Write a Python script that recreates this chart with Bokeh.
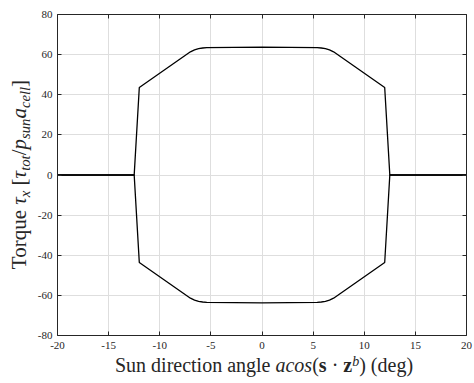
from bokeh.plotting import figure
from bokeh.layouts import row, column
from bokeh.models import LinearAxis, FixedTicker, CustomJSTickFormatter, Div
from bokeh.embed import file_html
from bokeh.resources import INLINE

# ---- data ----
angle_deg = [-20, -12.5, -12.0, -7.0, -6.6, -6.2, -5.8, -5.4, 0.0,
             5.4, 5.8, 6.2, 6.6, 7.0, 12.0, 12.5, 20]
torque_pos = [0, 0, 43.6, 61.4, 62.4, 63.0, 63.3, 63.5, 63.7,
              63.5, 63.3, 63.0, 62.4, 61.4, 43.6, 0, 0]
torque_neg = [0, 0, -43.6, -61.4, -62.4, -63.0, -63.3, -63.5, -63.7,
              -63.5, -63.3, -63.0, -62.4, -61.4, -43.6, 0, 0]
x_ticks = [-20, -15, -10, -5, 0, 5, 10, 15, 20]
y_ticks = [-80, -60, -40, -20, 0, 20, 40, 60, 80]

FONT = "Liberation Serif"
AX = "#262626"

# layout sizes (page pixels)
W, H = 474, 383
YLAB_W = 32
XLAB_H = 23
MAIN_W = W - YLAB_W
MAIN_H = H - XLAB_H

p = figure(width=MAIN_W, height=MAIN_H, x_range=(-20, 20), y_range=(-80, 80),
           output_backend="svg", toolbar_location=None,
           min_border_left=25, min_border_right=8, min_border_top=14,
           min_border_bottom=25)
p.outline_line_color = None

p.line(angle_deg, torque_pos, line_color="black", line_width=1.3)
p.line(angle_deg, torque_neg, line_color="black", line_width=1.3)


def style_axis(ax, ticks, show_labels):
    ax.ticker = FixedTicker(ticks=ticks)
    ax.axis_line_color = AX
    ax.axis_line_width = 1
    ax.major_tick_line_color = AX
    ax.major_tick_in = 4
    ax.major_tick_out = 0
    ax.minor_tick_line_color = None
    ax.axis_label = None
    if show_labels:
        ax.major_label_overrides = {t: str(t) for t in ticks}
        ax.major_label_text_font = FONT
        ax.major_label_text_font_size = "11px"
        ax.major_label_text_color = AX
    else:
        ax.formatter = CustomJSTickFormatter(code="return ''")
        ax.major_label_text_font_size = "0px"
        ax.major_label_standoff = 0


style_axis(p.xaxis[0], x_ticks, True)
style_axis(p.yaxis[0], y_ticks, True)
p.xaxis[0].major_label_standoff = 6
p.yaxis[0].major_label_standoff = 5

top_ax = LinearAxis()
right_ax = LinearAxis()
style_axis(top_ax, x_ticks, False)
style_axis(right_ax, y_ticks, False)
p.add_layout(top_ax, "above")
p.add_layout(right_ax, "right")

for g in (p.xgrid[0], p.ygrid[0]):
    g.grid_line_color = "#dedede"
    g.grid_line_width = 1
p.xgrid[0].ticker = FixedTicker(ticks=x_ticks)
p.ygrid[0].ticker = FixedTicker(ticks=y_ticks)

# ---- rich-text axis labels ----
def lbl(size):
    return (f"font-family:{FONT},serif; font-size:{size}px; "
            f"line-height:{size}px; color:{AX}; white-space:nowrap;")


SUB = "font-size:0.7em; line-height:0; vertical-align:-0.25em;"
SUP = "font-size:0.7em; line-height:0; vertical-align:0.45em;"

x_text = (f"Sun direction angle <i>acos</i>(<b>s</b> &middot; "
          f"<b>z</b><span style='{SUP}'><i>b</i></span>) (deg)")
y_text = (f"Torque <i>&tau;</i><span style='{SUB}'><i>x</i></span> "
          f"[<i>&tau;</i><span style='{SUB}'><i>tot</i></span>/"
          f"<i>p</i><span style='{SUB}'><i>sun</i></span>"
          f"<i>a</i><span style='{SUB}'><i>cell</i></span>]")

x_html = (f"<div style='position:relative; width:{MAIN_W}px; height:{XLAB_H}px;'>"
          f"<div style='position:absolute; left:11px; top:-5px; width:{MAIN_W}px; "
          f"text-align:center; {lbl(20)}'>{x_text}</div></div>")
y_html = (f"<div style='position:relative; width:{YLAB_W}px; height:{H}px;'>"
          f"<div style='position:absolute; left:0; top:0; width:349px; "
          f"text-align:center; transform-origin:0 0; "
          f"transform:translate(9px, 349px) rotate(-90deg); {lbl(21)}'>"
          f"{y_text}</div></div>")

xlab = Div(text=x_html, width=MAIN_W, height=XLAB_H, margin=0,
           styles={"overflow": "visible"})
ylab = Div(text=y_html, width=YLAB_W, height=H, margin=0,
           styles={"overflow": "visible"})

layout = row(ylab, column(p, xlab, spacing=0), spacing=0)
open("out.html", "w").write(file_html(layout, INLINE))
